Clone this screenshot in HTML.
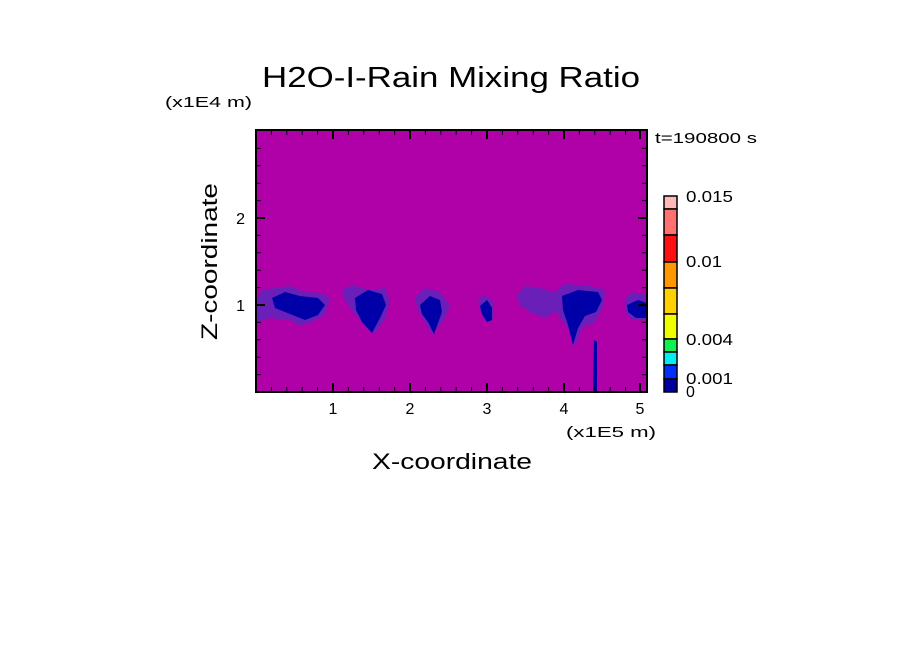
<!DOCTYPE html>
<html><head><style>body{margin:0;background:#fff;}svg{display:block}</style></head><body>
<svg width="904" height="654" xmlns="http://www.w3.org/2000/svg" font-family="Liberation Sans, sans-serif">
<rect width="904" height="654" fill="#fff"/>
<text x="262" y="87" font-size="29" textLength="378" lengthAdjust="spacingAndGlyphs" fill="#000">H2O-I-Rain Mixing Ratio</text>
<text x="165" y="107" font-size="15" textLength="87" lengthAdjust="spacingAndGlyphs">(x1E4 m)</text>
<text x="655" y="143" font-size="15" textLength="102" lengthAdjust="spacingAndGlyphs">t=190800 s</text>
<rect x="256" y="130" width="391" height="262" fill="#b000a8"/>
<g fill="#6a20b8">
<path d="M256,300 L262,290 L275,288 L290,286 L305,292 L322,293 L330,298 L325,315 L312,322 L300,326 L290,320 L270,318 L256,322Z"/>
<path d="M342,290 L352,285 L370,290 L385,288 L390,300 L386,318 L375,333 L365,326 L352,310 L345,300Z"/>
<path d="M415,298 L425,288 L440,292 L450,305 L445,318 L433,335 L425,322 L418,310Z"/>
<path d="M478,300 L485,295 L493,302 L494,318 L490,323 L482,316Z"/>
<path d="M517,295 L525,286 L540,288 L560,294 L558,310 L545,318 L530,312 L520,305Z"/>
<path d="M555,292 L565,284 L590,286 L605,290 L604,305 L595,322 L582,328 L575,346 L568,328 L558,315Z"/>
<path d="M625,300 L632,292 L647,295 L647,320 L632,320 L626,312Z"/>
</g>
<g fill="#0000a8">
<path d="M272,298 L285,292 L300,296 L318,298 L325,305 L318,315 L305,320 L290,314 L275,308Z"/>
<path d="M355,298 L368,290 L382,294 L386,305 L380,318 L372,333 L362,322 L356,310Z"/>
<path d="M420,305 L430,296 L440,300 L442,312 L434,334 L428,322 L422,314Z"/>
<path d="M480,306 L487,300 L492,308 L492,320 L487,322 L482,314Z"/>
<path d="M562,296 L578,290 L598,292 L602,300 L596,312 L585,316 L578,328 L573,345 L568,325 L563,310Z"/>
<path d="M627,305 L638,300 L647,303 L647,318 L636,318 L628,312Z"/>
<path d="M594,340 L597,342 L597,392 L593,392Z"/>
</g>
<rect x="256" y="130" width="391" height="262" fill="none" stroke="#000" stroke-width="2"/>
<g stroke="#000" stroke-width="1">
<path d="M271.4,392v-5M286.8,392v-5M302.2,392v-5M317.6,392v-5M348.4,392v-5M363.8,392v-5M379.2,392v-5M394.6,392v-5M425.4,392v-5M440.8,392v-5M456.2,392v-5M471.6,392v-5M502.4,392v-5M517.8,392v-5M533.2,392v-5M548.6,392v-5M579.4,392v-5M594.8,392v-5M610.2,392v-5M625.6,392v-5"/>
<path d="M271.4,130v5M286.8,130v5M302.2,130v5M317.6,130v5M348.4,130v5M363.8,130v5M379.2,130v5M394.6,130v5M425.4,130v5M440.8,130v5M456.2,130v5M471.6,130v5M502.4,130v5M517.8,130v5M533.2,130v5M548.6,130v5M579.4,130v5M594.8,130v5M610.2,130v5M625.6,130v5"/>
<path d="M256,374.6h5M256,357.2h5M256,339.8h5M256,322.4h5M256,287.6h5M256,270.2h5M256,252.8h5M256,235.4h5M256,200.6h5M256,183.2h5M256,165.8h5M256,148.4h5"/>
<path d="M647,374.6h-5M647,357.2h-5M647,339.8h-5M647,322.4h-5M647,287.6h-5M647,270.2h-5M647,252.8h-5M647,235.4h-5M647,200.6h-5M647,183.2h-5M647,165.8h-5M647,148.4h-5"/>
</g>
<g stroke="#000" stroke-width="2">
<path d="M333,392v-9M410,392v-9M487,392v-9M564,392v-9M640,392v-9M333,130v9M410,130v9M487,130v9M564,130v9M640,130v9"/>
<path d="M256,305h9M256,218h9M647,305h-9M647,218h-9"/>
</g>
<g font-size="16" text-anchor="middle">
<text x="333" y="414">1</text><text x="410" y="414">2</text><text x="487" y="414">3</text><text x="564" y="414">4</text><text x="640" y="414">5</text>
</g>
<g font-size="16" text-anchor="end"><text x="245" y="311">1</text><text x="245" y="224">2</text></g>
<text x="566" y="437" font-size="15" textLength="90" lengthAdjust="spacingAndGlyphs">(x1E5 m)</text>
<text x="372" y="469" font-size="22" textLength="160" lengthAdjust="spacingAndGlyphs">X-coordinate</text>
<text transform="translate(217,340) rotate(-90)" font-size="22" textLength="157" lengthAdjust="spacingAndGlyphs">Z-coordinate</text>
<g stroke="#000" stroke-width="1.5">
<rect x="664" y="196" width="13" height="13" fill="#ffb8b8"/>
<rect x="664" y="209" width="13" height="26" fill="#ff7070"/>
<rect x="664" y="235" width="13" height="27" fill="#ff1010"/>
<rect x="664" y="262" width="13" height="26" fill="#ff9800"/>
<rect x="664" y="288" width="13" height="26" fill="#ffd000"/>
<rect x="664" y="314" width="13" height="25" fill="#f0ff00"/>
<rect x="664" y="339" width="13" height="13" fill="#10f050"/>
<rect x="664" y="352" width="13" height="13" fill="#00f0f0"/>
<rect x="664" y="365" width="13" height="14" fill="#0030ff"/>
<rect x="664" y="379" width="13" height="13" fill="#0000a0"/>
</g>
<g font-size="16">
<text x="686" y="202" textLength="47" lengthAdjust="spacingAndGlyphs">0.015</text>
<text x="686" y="267" textLength="36" lengthAdjust="spacingAndGlyphs">0.01</text>
<text x="686" y="345" textLength="47" lengthAdjust="spacingAndGlyphs">0.004</text>
<text x="686" y="384" textLength="47" lengthAdjust="spacingAndGlyphs">0.001</text>
<text x="686" y="397">0</text>
</g>
</svg>
</body></html>
